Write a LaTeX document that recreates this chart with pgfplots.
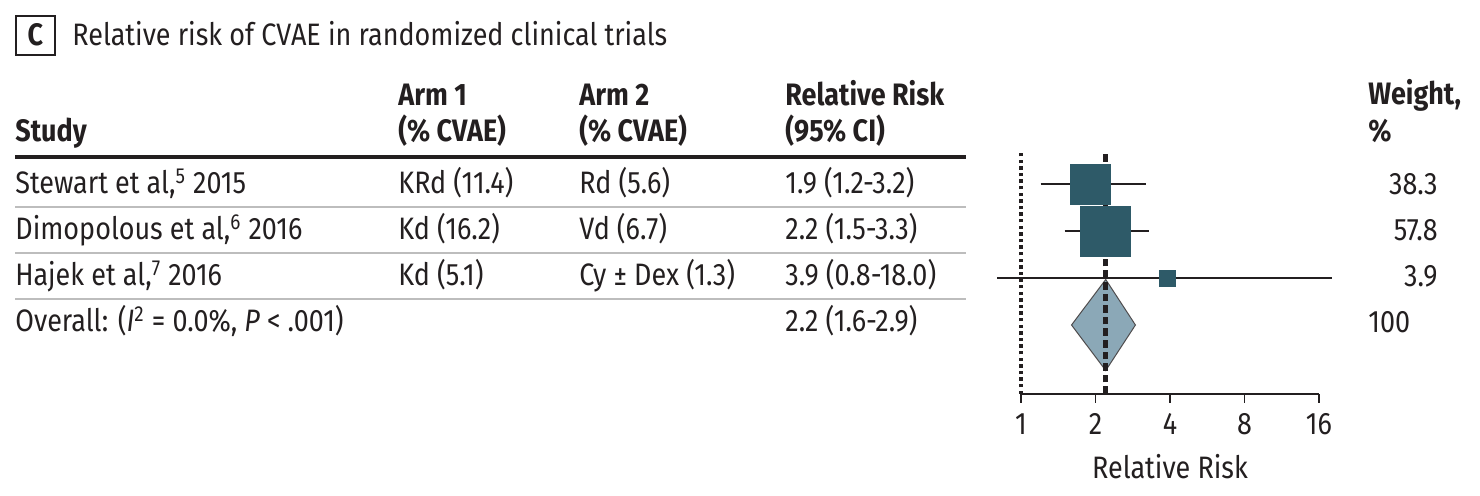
\documentclass[border=0pt]{standalone}
\usepackage{pgfplots}
\pgfplotsset{compat=1.18}
\usepackage{fontspec}
\setmainfont{Fira Sans}[FakeStretch=0.87]

\definecolor{ink}{HTML}{231F20}
\definecolor{studysq}{HTML}{2E5A68}
\definecolor{pooled}{HTML}{8BA8B7}
\definecolor{rowrule}{HTML}{BDBDBD}

\newcommand\txtsize{\fontsize{15.5}{18}\selectfont}

\begin{document}
\begin{tikzpicture}
\begin{scope}[x=0.5pt, y=-0.5pt, every node/.style={text=ink, inner sep=0pt},
  txt/.style={font=\txtsize}]
\useasboundingbox (0,0) rectangle (1480,496);

% panel letter and title
\draw[ink, line width=0.6pt] (16,16) rectangle (55,55);
\node[anchor=base, font=\txtsize\bfseries] at (35.5,46) {C};
\node[txt, anchor=base west] at (72,46) {Relative risk of CVAE in randomized clinical trials};

% column headers
\begin{scope}[every node/.append style={font=\txtsize\bfseries, anchor=base west}]
\node at (15,142) {Study};
\node at (398,106) {Arm 1};
\node at (398,142) {(\% CVAE)};
\node at (579,106) {Arm 2};
\node at (579,142) {(\% CVAE)};
\node at (785,106) {Relative Risk};
\node at (785,142) {(95\% CI)};
\node at (1368,105) {Weight,};
\node at (1368,142) {\%};
\end{scope}

% table rules
\draw[ink, line width=2pt] (15,157) -- (966,157);
\foreach \yy in {207,253,299}
  \draw[rowrule, line width=0.6pt] (15,\yy) -- (966,\yy);

% table body
\begin{scope}[every node/.append style={txt, anchor=base west}]
\node at (15,194) {Stewart et al,\textsuperscript{5} 2015};
\node at (398,194) {KRd (11.4)};
\node at (579,194) {Rd (5.6)};
\node at (785,194) {1.9 (1.2-3.2)};
\node at (15,240) {Dimopolous et al,\textsuperscript{6} 2016};
\node at (398,240) {Kd (16.2)};
\node at (579,240) {Vd (6.7)};
\node at (785,240) {2.2 (1.5-3.3)};
\node at (15,286) {Hajek et al,\textsuperscript{7} 2016};
\node at (398,286) {Kd (5.1)};
\node at (579,286) {Cy ± Dex (1.3)};
\node at (785,286) {3.9 (0.8-18.0)};
\node at (15,332) {Overall: (\textit{I}\textsuperscript{2} = 0.0\%, \textit{P} < .001)};
\node at (785,332) {2.2 (1.6-2.9)};
\end{scope}

% weights
\begin{scope}[every node/.append style={txt, anchor=base east}]
\node at (1438,195) {38.3};
\node at (1438,241) {57.8};
\node at (1438,287) {3.9};
\node[anchor=base west] at (1368,333) {100};
\end{scope}
\end{scope}

\begin{axis}[
  at={(510.5pt,-197pt)}, anchor=south west,
  scale only axis, width=149pt, height=121pt,
  xmode=log, log basis x=2, xmin=1, xmax=16,
  ymin=-5.468, ymax=-0.319,
  axis x line*=bottom, axis y line=none,
  xtick={1,2,4,8,16}, xticklabels={1,2,4,8,16},
  minor xtick={}, ytick=\empty,
  tick align=outside, major tick length=4.5pt,
  every tick/.style={ink, line width=0.6pt},
  x axis line style={ink, line width=0.6pt},
  xticklabel style={font=\txtsize, text=ink, inner sep=2pt, yshift=-3pt},
  /pgf/number format/assume math mode=true,
  xlabel={Relative Risk},
  xlabel style={font=\txtsize, text=ink, yshift=-4pt},
  clip=false,
]
% 95% confidence intervals
\addplot[ink, line width=0.6pt] coordinates {(1.2,-1) (3.2,-1)};
\addplot[ink, line width=0.6pt] coordinates {(1.5,-2) (3.3,-2)};
\addplot[ink, line width=0.6pt] coordinates {(0.8,-3) (18.0,-3)};
% study squares, sized by weight
\addplot[only marks, mark=square*, mark size=10pt, studysq] coordinates {(1.9,-1)};
\addplot[only marks, mark=square*, mark size=12.5pt, studysq] coordinates {(2.2,-2)};
\addplot[only marks, mark=square*, mark size=4pt, studysq] coordinates {(3.9,-3)};
% pooled estimate
\addplot[fill=pooled, draw=ink!80, line width=0.5pt]
  coordinates {(1.6,-4) (2.2,-3.032) (2.9,-4) (2.2,-4.968)} -- cycle;
% reference lines: no effect and pooled effect
\addplot[ink, line width=1.7pt, dash pattern=on 1.7pt off 1.6pt]
  coordinates {(1,-5.468) (1,-0.319)};
\addplot[ink, line width=2.3pt, dash pattern=on 3.8pt off 2pt]
  coordinates {(2.2,-5.468) (2.2,-0.319)};
\end{axis}
\end{tikzpicture}
\end{document}
